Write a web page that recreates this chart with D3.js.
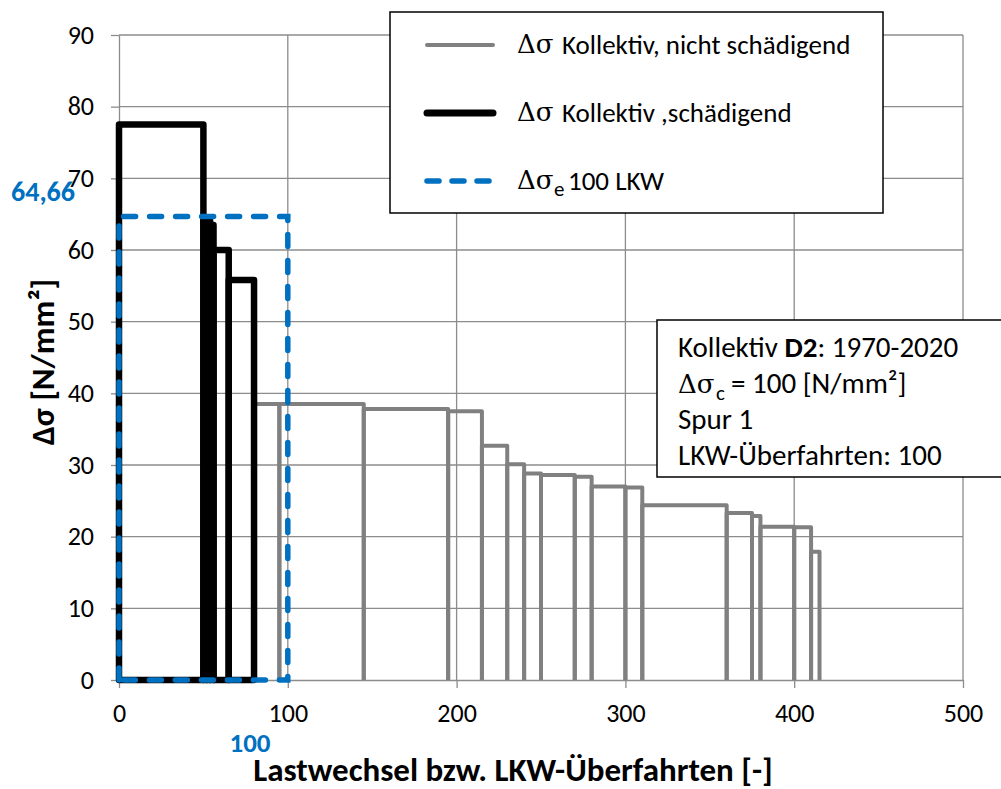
<!DOCTYPE html>
<html>
<head>
<meta charset="utf-8">
<script src="https://cdn.jsdelivr.net/npm/d3@7"></script>
<style>
  body { margin: 0; background: #fff; }
  text { font-family: Carlito, "Open Sans", sans-serif; }
</style>
</head>
<body>
<svg id="chart" width="1001" height="789"></svg>
<script>
// data
const xTicks = [0, 100, 200, 300, 400, 500]
const yTicks = [0, 10, 20, 30, 40, 50, 60, 70, 80, 90]

// damaging part of the spectrum: class ends and stress ranges
const damStart = 0
const damEnds = [50, 52, 54, 56, 65, 80]
const damVals = [77.5, 64, 64, 63.5, 60, 55.8]

// non damaging part
const nonStart = 80
const nonEnds = [95, 145, 195, 215, 230, 240, 250, 270, 280, 300, 310, 360, 375, 380, 400, 410, 415]
const nonVals = [38.5, 38.5, 37.8, 37.5, 32.7, 30.1, 28.8, 28.6, 28.35, 27.0, 26.85, 24.4, 23.3, 22.9, 21.4, 21.3, 17.9]

// equivalent stress range for 100 trucks
const eqN = 100
const eqVal = 64.66

const infoLines = ["Kollektiv ", "Spur 1", "LKW-Überfahrten: 100"]

const grey = "#808080"
const blue = "#0070C0"
const serif = '"DejaVu Serif", "Liberation Serif", serif'

let svg = d3.select("#chart")
let xScale = d3.scaleLinear().domain([0, 500]).range([119, 963])
let yScale = d3.scaleLinear().domain([0, 90]).range([680, 35])

// 网格
svg.append("g").selectAll("line")
    .data(yTicks.slice(1))
    .enter().append("line")
    .attr("x1", xScale(0)).attr("x2", xScale(500))
    .attr("y1", d => yScale(d)).attr("y2", d => yScale(d))
    .attr("stroke", "#8c8c8c").attr("stroke-width", 1.3)
svg.append("g").selectAll("line")
    .data(xTicks.slice(1))
    .enter().append("line")
    .attr("y1", yScale(0)).attr("y2", yScale(90))
    .attr("x1", d => xScale(d)).attr("x2", d => xScale(d))
    .attr("stroke", "#8c8c8c").attr("stroke-width", 1.3)

// 坐标轴
let yAxis = svg.append("g")
    .attr("transform", "translate(" + xScale(0) + ",0)")
    .call(d3.axisLeft(yScale).tickValues(yTicks).tickSize(8).tickPadding(17).tickSizeOuter(0))
let xAxis = svg.append("g")
    .attr("transform", "translate(0," + yScale(0) + ")")
    .call(d3.axisBottom(xScale).tickValues(xTicks).tickSize(8).tickPadding(16).tickSizeOuter(0))
;[xAxis, yAxis].forEach(a => {
    a.selectAll("path, line").attr("stroke", "#8c8c8c").attr("stroke-width", 1.3)
    a.selectAll("text").attr("font-size", 26).attr("fill", "#000")
        .style("font-family", 'Carlito, "Open Sans", sans-serif')
})

// 每个等级画成一个矩形 (closed = bottom line too)
function classPath(start, end, val, closed) {
    return "M" + xScale(start) + "," + yScale(0) +
        "V" + yScale(val) + "H" + xScale(end) + "V" + yScale(0) + (closed ? "Z" : "")
}

function drawSpectrum(start, ends, vals, color, width, closed) {
    let g = svg.append("g")
    ends.forEach((e, i) => {
        let s = i == 0 ? start : ends[i - 1]
        g.append("path")
            .attr("d", classPath(s, e, vals[i], closed))
            .attr("fill", "none")
            .attr("stroke", color)
            .attr("stroke-width", width)
            .attr("stroke-linejoin", "round")
    })
}

drawSpectrum(nonStart, nonEnds, nonVals, grey, 4, false)
drawSpectrum(damStart, damEnds, damVals, "#000", 6.5, true)

svg.append("path")
    .attr("d", classPath(0, eqN, eqVal, true))
    .attr("fill", "none")
    .attr("stroke", blue)
    .attr("stroke-width", 5.5)
    .attr("stroke-linecap", "round")
    .attr("stroke-dasharray", "12,14")

// 蓝色标注
svg.append("text")
    .attr("x", 11).attr("y", yScale(eqVal) - 16)
    .attr("font-size", 28).attr("font-weight", "bold").attr("fill", blue)
    .text("64,66")
svg.append("text")
    .attr("x", 250).attr("y", 752).attr("text-anchor", "middle")
    .attr("font-size", 27).attr("font-weight", "bold").attr("fill", blue)
    .text(eqN)

// 轴标题
svg.append("text")
    .attr("x", 513).attr("y", 781).attr("text-anchor", "middle")
    .attr("font-size", 33).attr("font-weight", "bold")
    .text("Lastwechsel bzw. LKW-Überfahrten [-]")
svg.append("text")
    .attr("transform", "translate(54," + 362 + ") rotate(-90)")
    .attr("text-anchor", "middle")
    .attr("font-size", 33).attr("font-weight", "bold")
    .text("Δσ [N/mm²]")

// 图例
let legend = svg.append("g")
legend.append("rect")
    .attr("x", 390).attr("y", 12).attr("width", 493).attr("height", 201)
    .attr("fill", "#fff").attr("stroke", "#000").attr("stroke-width", 1.5)

let legItems = [
    { y: 45, color: grey, w: 4, dash: null, label: "Kollektiv, nicht schädigend", sub: null },
    { y: 113, color: "#000", w: 7, dash: null, label: "Kollektiv ,schädigend", sub: null },
    { y: 181, color: blue, w: 5.5, dash: "12,13", label: "100 LKW", sub: "e" }
]
legItems.forEach(d => {
    legend.append("line")
        .attr("x1", 427).attr("x2", 493).attr("y1", d.y).attr("y2", d.y)
        .attr("stroke", d.color).attr("stroke-width", d.w)
        .attr("stroke-linecap", "round")
        .attr("stroke-dasharray", d.dash)
    legend.append("text").attr("x", 517).attr("y", d.y + 8)
        .style("font-family", serif).attr("font-size", 26).text("Δσ")
    if (d.sub) {
        legend.append("text").attr("x", 554).attr("y", d.y + 15)
            .attr("font-size", 21).text(d.sub)
        legend.append("text").attr("x", 568).attr("y", d.y + 9)
            .attr("font-size", 27).text(d.label)
    } else {
        legend.append("text").attr("x", 562).attr("y", d.y + 9)
            .attr("font-size", 27).text(d.label)
    }
})

// 信息框
let info = svg.append("g")
info.append("rect")
    .attr("x", 657).attr("y", 320).attr("width", 360).attr("height", 157)
    .attr("fill", "#fff").attr("stroke", "#000").attr("stroke-width", 1.5)
let l1 = info.append("text").attr("x", 678).attr("y", 357).attr("font-size", 29)
l1.append("tspan").text(infoLines[0])
l1.append("tspan").attr("font-weight", "bold").text("D2")
l1.append("tspan").text(": 1970-2020")
info.append("text").attr("x", 678).attr("y", 393)
    .style("font-family", serif).attr("font-size", 26).text("Δσ")
info.append("text").attr("x", 716).attr("y", 400).attr("font-size", 21).text("c")
info.append("text").attr("x", 731).attr("y", 393).attr("font-size", 29).text("= 100 [N/mm²]")
info.append("text").attr("x", 678).attr("y", 429).attr("font-size", 29).text(infoLines[1])
info.append("text").attr("x", 678).attr("y", 465).attr("font-size", 29).text(infoLines[2])
</script>
</body>
</html>
